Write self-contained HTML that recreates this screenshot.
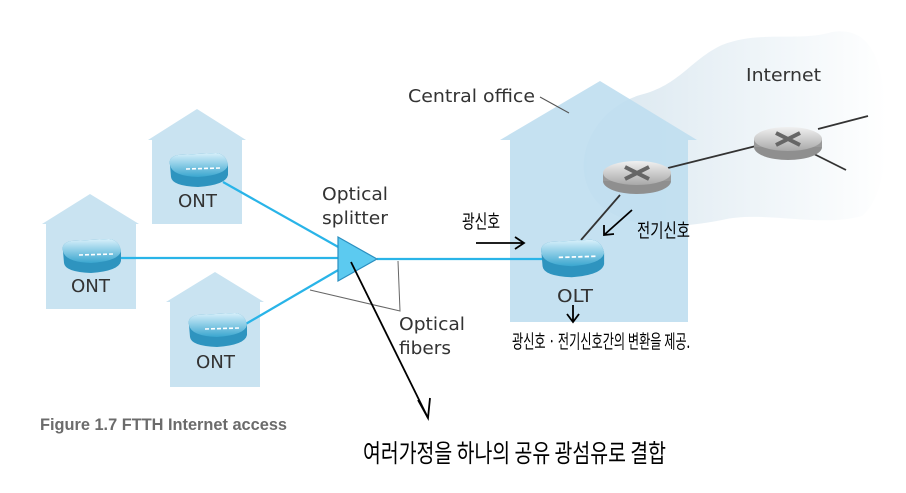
<!DOCTYPE html>
<html><head><meta charset="utf-8"><style>
html,body{margin:0;padding:0;background:#fff;}
svg{display:block;}
.t{font-family:"DejaVu Sans","Liberation Sans",sans-serif;fill:#333;}
.h{font-family:"Noto Sans CJK KR","NanumGothic",sans-serif;fill:#000;}
</style></head><body>
<svg width="906" height="493" viewBox="0 0 906 493" xmlns="http://www.w3.org/2000/svg">
<defs>
<linearGradient id="cl" x1="0" x2="1" y1="0" y2="0"><stop offset="0" stop-color="#d8e6ef"/><stop offset="1" stop-color="#ffffff"/></linearGradient>
<linearGradient id="rt" x1="0" x2="0" y1="0" y2="1"><stop offset="0" stop-color="#f0f0f0"/><stop offset="1" stop-color="#a8a8a8"/></linearGradient>
<linearGradient id="on" x1="0" x2="0" y1="0" y2="1"><stop offset="0" stop-color="#d8f0fb"/><stop offset="1" stop-color="#3aa6cf"/></linearGradient>
<g id="ont">
<path d="M2,12 Q0,4 10,2 L48,0 Q58,1 60,12 L60,22 Q58,32 30,34 Q4,33 3,24 Z" fill="#2e94bf"/>
<path d="M2,12 Q0,4 10,2 L48,0 Q58,1 60,12 Q58,22 30,24 Q4,23 2,12 Z" fill="url(#on)"/>
<path d="M18,16 L52,15" stroke="#fff" stroke-width="1.6" stroke-dasharray="4,2"/>
</g>
<g id="rtr">
<ellipse cx="34" cy="20" rx="34" ry="13" fill="#8f8f8f"/>
<rect x="0" y="12" width="68" height="8" fill="#9a9a9a"/>
<ellipse cx="34" cy="12" rx="34" ry="12" fill="url(#rt)"/>
<path d="M22,6 L46,18 M46,6 L22,18" stroke="#666" stroke-width="4"/>
</g>
</defs>
<path d="M600,205 C565,170 590,110 640,95 C680,85 690,60 722,45 C760,30 800,42 832,32 C872,26 882,62 886,110 C890,152 882,200 862,216 C820,228 762,210 722,220 C680,228 632,232 600,205 Z" fill="url(#cl)"/>
<path d="M152,224 V140 H148 L197,109 L246,140 H242 V224 Z" fill="#c9e3f1"/>
<path d="M46,309 V224 H42 L90,194 L139,224 H136 V309 Z" fill="#c9e3f1"/>
<path d="M170,387 V302 H166 L215,272 L264,302 H260 V387 Z" fill="#c9e3f1"/>
<path d="M510,322 V140 H500 L600,81 L697,140 H688 V322 Z" fill="#bfdef0" opacity="0.9"/>
<path d="M540,97 L569,113" stroke="#555" stroke-width="1"/>
<text class="t" x="408" y="102" font-size="18" textLength="127" lengthAdjust="spacingAndGlyphs">Central office</text>
<text class="t" x="746" y="81" font-size="18" textLength="75" lengthAdjust="spacingAndGlyphs">Internet</text>
<g stroke="#29b4e8" stroke-width="2.2">
<line x1="223" y1="182" x2="340" y2="248"/>
<line x1="120" y1="258" x2="340" y2="258"/>
<line x1="244" y1="325" x2="340" y2="269"/>
<line x1="377" y1="259" x2="545" y2="259"/>
</g>
<path d="M310,290 L400,311 L398,261" stroke="#666" stroke-width="1" fill="none"/>
<path d="M338,237 L338,281 L377,259 Z" fill="#5ccaf0" stroke="#2a8fc0" stroke-width="1.2"/>
<use href="#ont" x="168" y="153"/>
<use href="#ont" x="61" y="239"/>
<use href="#ont" x="187" y="313"/>
<text class="t" x="178" y="207" font-size="18" textLength="39" lengthAdjust="spacingAndGlyphs">ONT</text>
<text class="t" x="71" y="292" font-size="18" textLength="39" lengthAdjust="spacingAndGlyphs">ONT</text>
<text class="t" x="196" y="368" font-size="18" textLength="39" lengthAdjust="spacingAndGlyphs">ONT</text>
<text class="t" x="322" y="200" font-size="18" textLength="66" lengthAdjust="spacingAndGlyphs">Optical</text>
<text class="t" x="322" y="224" font-size="18" textLength="66" lengthAdjust="spacingAndGlyphs">splitter</text>
<text class="t" x="399" y="330" font-size="18" textLength="66" lengthAdjust="spacingAndGlyphs">Optical</text>
<text class="t" x="399" y="354" font-size="18" textLength="52" lengthAdjust="spacingAndGlyphs">fibers</text>
<g stroke="#333" stroke-width="1.8">
<line x1="581" y1="240" x2="620" y2="195"/>
<line x1="668" y1="168" x2="756" y2="146"/>
<line x1="818" y1="129" x2="868" y2="116"/>
<line x1="812" y1="153" x2="846" y2="170"/>
</g>
<use href="#rtr" x="603" y="161"/>
<use href="#rtr" x="754" y="127"/>
<use href="#ont" x="545" y="240" transform="translate(-5,0) scale(1.08,1.1) translate(-41,-22)"/>
<text class="t" x="557" y="302" font-size="18" textLength="36" lengthAdjust="spacingAndGlyphs">OLT</text>
<g stroke="#000" stroke-width="1.8" fill="none">
<line x1="351" y1="262" x2="428" y2="418"/>
<path d="M418,400 L428,418 L430,398"/>
<path d="M476,243 L524,243 M515,237 L524,243 L515,249"/>
<path d="M632,210 L604,235 M604,225 L604,235 L614,234"/>
<path d="M573,305 L573,322 M567,314 L573,322 L579,314"/>
</g>
<text class="h" x="462" y="228" font-size="19" textLength="38" lengthAdjust="spacingAndGlyphs">광신호</text>
<text class="h" x="637" y="237" font-size="19" textLength="53" lengthAdjust="spacingAndGlyphs">전기신호</text>
<text class="h" x="512" y="348" font-size="19" textLength="178" lengthAdjust="spacingAndGlyphs">광신호 · 전기신호간의 변환을 제공.</text>
<text class="h" x="363" y="462" font-size="25" textLength="303" lengthAdjust="spacingAndGlyphs">여러가정을 하나의 공유 광섬유로 결합</text>
<text x="40" y="430" font-family="Liberation Sans,sans-serif" font-weight="bold" font-size="17" fill="#6b6b6b" textLength="247" lengthAdjust="spacingAndGlyphs">Figure 1.7 FTTH Internet access</text>
</svg>
</body></html>
